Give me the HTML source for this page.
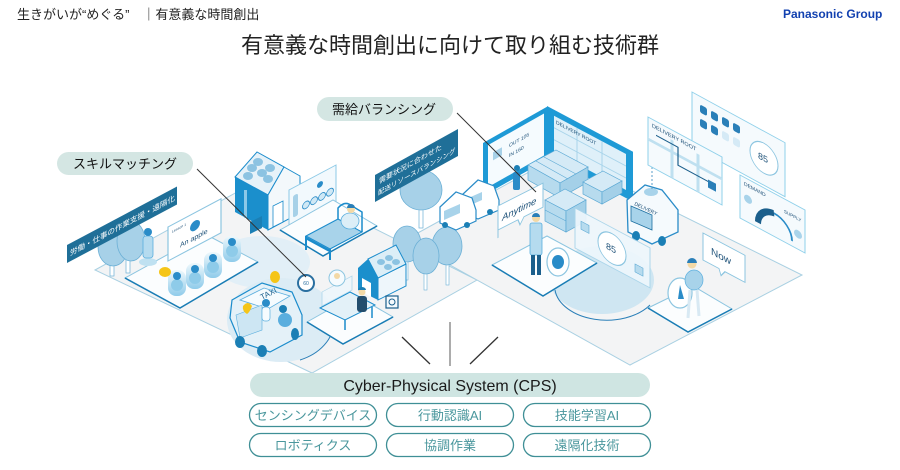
<!DOCTYPE html>
<html><head><meta charset="utf-8">
<style>
html,body{margin:0;padding:0;background:#fff;}
body{width:900px;height:470px;overflow:hidden;}
svg{display:block;}
text{font-family:"Liberation Sans","Noto Sans CJK JP",sans-serif;}
</style></head><body>
<svg width="900" height="470" viewBox="0 0 900 470" xmlns="http://www.w3.org/2000/svg">
<defs>
<linearGradient id="glow" x1="0" y1="0" x2="0" y2="1">
<stop offset="0" stop-color="#eef8fc"/><stop offset="1" stop-color="#8fcbea"/>
</linearGradient>
</defs>

<!-- header -->
<text x="17" y="19" font-size="13" fill="#222">生きがいが“めぐる”　｜有意義な時間創出</text>
<text x="783" y="18" font-size="12" font-weight="bold" fill="#1241b0">Panasonic Group</text>
<text x="450" y="53" font-size="22" text-anchor="middle" fill="#222">有意義な時間創出に向けて取り組む技術群</text>

<!-- platforms -->
<polygon points="95,270 268,175 477,280 312,373" fill="#f3f4f5" stroke="#a9d0e2" stroke-width="1"/>
<polygon points="405,240 560,155 802,275 630,365" fill="#f3f4f5" stroke="#a9d0e2" stroke-width="1"/>

<!-- light path regions -->
<ellipse cx="262" cy="262" rx="48" ry="26" fill="#e2eff7"/>
<ellipse cx="281" cy="320" rx="54" ry="42" fill="#dcecf5"/>
<path d="M300,360 A54,42 0 0 0 334,322" fill="none" stroke="#2a7fb8" stroke-width="1"/>
<ellipse cx="602" cy="280" rx="52" ry="34" fill="#cfe6f2"/>
<path d="M555,290 A52,34 0 0 0 650,305" fill="none" stroke="#2a7fb8" stroke-width="1"/>

<!-- classroom -->
<polygon points="125,278 205,234 258,262 180,308" fill="#fbfdfe" stroke="#8cc5e0"/>
<polyline points="125,278 180,308 258,262" fill="none" stroke="#1a7db5" stroke-width="1.5"/>
<!-- left tree -->
<rect x="110" y="258" width="4" height="18" fill="#fff" stroke="#6cb0d6" stroke-width="0.7"/>
<rect x="126" y="256" width="4" height="17" fill="#fff" stroke="#6cb0d6" stroke-width="0.7"/>
<ellipse cx="113" cy="247" rx="15" ry="19" fill="#a7d1e8" stroke="#6cb0d6" stroke-width="0.8"/>
<ellipse cx="131" cy="241" rx="14" ry="20" fill="#a7d1e8" stroke="#6cb0d6" stroke-width="0.8"/>
<!-- whiteboard -->
<g transform="translate(168,227) skewY(-28)">
<rect x="0" y="0" width="53" height="34" fill="#fff" stroke="#8cc5e0" stroke-width="1.2"/>
<text x="4" y="8" font-size="3.5" fill="#1b4f77">Lesson 1</text>
<circle cx="27" cy="13" r="5" fill="#2a8cc8"/>
<text x="12" y="27" font-size="7" fill="#1b4f77">An apple</text>
</g>
<!-- teacher -->
<ellipse cx="148" cy="262" rx="9" ry="4" fill="#bfe1f1"/>
<rect x="143" y="236" width="10" height="22" rx="3" fill="#b5dbef" stroke="#5aaede" stroke-width="0.8"/>
<circle cx="148" cy="232" r="4" fill="#2a8cc8"/>
<!-- students -->
<g>
<rect x="168" y="270" width="18" height="26" rx="8" fill="url(#glow)"/><ellipse cx="177" cy="285" rx="6" ry="6" fill="#8ecbe9"/><circle cx="177" cy="276" r="4" fill="#2a8cc8"/>
<rect x="186" y="263" width="18" height="26" rx="8" fill="url(#glow)"/><ellipse cx="195" cy="278" rx="6" ry="6" fill="#8ecbe9"/><circle cx="195" cy="269" r="4" fill="#2a8cc8"/>
<rect x="204" y="252" width="18" height="26" rx="8" fill="url(#glow)"/><ellipse cx="213" cy="267" rx="6" ry="6" fill="#8ecbe9"/><circle cx="213" cy="258" r="4" fill="#2a8cc8"/>
<rect x="223" y="236" width="18" height="26" rx="8" fill="url(#glow)"/><ellipse cx="232" cy="251" rx="6" ry="6" fill="#8ecbe9"/><circle cx="232" cy="242" r="4" fill="#2a8cc8"/>
</g>
<ellipse cx="165" cy="272" rx="6" ry="5" fill="#f5c518"/>
<ellipse cx="275" cy="277" rx="5" ry="6" fill="#f5c518"/>

<!-- house A -->
<polygon points="235,177 268,195 268,230 235,212" fill="#1b8fcc"/>
<rect x="244" y="190" width="3" height="28" fill="#8cc9e8" transform="skewY(0)"/>
<polygon points="235,177 257,152 284,167 268,195" fill="#e6f2f9" stroke="#1b8ccc" stroke-width="1"/>
<ellipse cx="252" cy="168" rx="5" ry="4" fill="#8cc3e2"/><ellipse cx="262" cy="173" rx="5" ry="4" fill="#8cc3e2"/>
<ellipse cx="258" cy="162" rx="5" ry="4" fill="#8cc3e2"/><ellipse cx="268" cy="179" rx="5" ry="4" fill="#8cc3e2"/>
<ellipse cx="248" cy="176" rx="5" ry="4" fill="#8cc3e2"/><ellipse cx="270" cy="168" rx="5" ry="4" fill="#8cc3e2"/>
<polygon points="268,195 284,167 300,176 300,213 268,230" fill="#f3f8fb" stroke="#1b8ccc" stroke-width="1"/>
<polygon points="273,206 283,201 283,222 273,227" fill="#fff" stroke="#1b8ccc" stroke-width="0.8"/>
<polygon points="250,222 262,216 262,228 250,234" fill="#1b7fb5"/>
<!-- panel next to house -->
<g transform="translate(289,190) skewY(-28)">
<rect x="0" y="0" width="47" height="37" fill="#f2f9fd" stroke="#8cc9e6" stroke-width="1"/>
<rect x="4" y="8" width="5" height="22" rx="2" fill="#a7d1e8"/>
<circle cx="17" cy="24" r="3.5" fill="#cfe8f5" stroke="#2a8cc8" stroke-width="0.8"/>
<circle cx="25" cy="24" r="3.5" fill="#cfe8f5" stroke="#2a8cc8" stroke-width="0.8"/>
<circle cx="33" cy="24" r="3.5" fill="#cfe8f5" stroke="#2a8cc8" stroke-width="0.8"/>
<circle cx="41" cy="24" r="3.5" fill="#cfe8f5" stroke="#2a8cc8" stroke-width="0.8"/>
<circle cx="31" cy="11" r="3" fill="#2a8cc8"/>
</g>
<!-- bed platform -->
<polygon points="280,230 333,200 377,226 323,256" fill="#fbfdfe" stroke="#8cc5e0"/>
<polyline points="280,230 323,256 377,226" fill="none" stroke="#1a7db5" stroke-width="1.5"/>
<polygon points="306,236 338,219 362,232 330,249" fill="#a8d3ea" stroke="#1b8ccc" stroke-width="1"/>
<polyline points="306,236 306,248 M330,249" fill="none" stroke="#1b8ccc" stroke-width="2"/>
<line x1="306" y1="236" x2="306" y2="250" stroke="#1b8ccc" stroke-width="2"/>
<line x1="330" y1="249" x2="330" y2="260" stroke="#1b8ccc" stroke-width="2"/>
<line x1="306" y1="238" x2="330" y2="251" stroke="#1b8ccc" stroke-width="2.5"/>
<path d="M338,219 L338,208 Q345,200 352,206 L362,212 L362,232" fill="none" stroke="#1b8ccc" stroke-width="1.5"/>
<ellipse cx="350" cy="221" rx="9" ry="8" fill="#dceef7" stroke="#5aaede" stroke-width="0.8"/>
<circle cx="351" cy="209" r="4" fill="#f3d9a6"/><path d="M347,208 a4,4 0 0 1 8,0 z" fill="#2a7fb8"/>

<!-- trees middle -->
<rect x="419" y="200" width="4" height="28" fill="#fff" stroke="#6cb0d6" stroke-width="0.7"/>
<ellipse cx="421" cy="190" rx="21" ry="20" fill="#a7d1e8" stroke="#6cb0d6" stroke-width="0.8"/>
<rect x="405" y="255" width="3" height="25" fill="#fff" stroke="#6cb0d6" stroke-width="0.6"/>
<rect x="424" y="265" width="3" height="25" fill="#fff" stroke="#6cb0d6" stroke-width="0.6"/>
<rect x="446" y="258" width="3" height="27" fill="#fff" stroke="#6cb0d6" stroke-width="0.6"/>
<ellipse cx="407" cy="244" rx="14" ry="18" fill="#a7d1e8" stroke="#6cb0d6" stroke-width="0.8"/>
<ellipse cx="447" cy="246" rx="15" ry="19" fill="#a7d1e8" stroke="#6cb0d6" stroke-width="0.8"/>
<ellipse cx="426" cy="256" rx="13" ry="18" fill="#a7d1e8" stroke="#6cb0d6" stroke-width="0.8"/>

<!-- house B -->
<polygon points="378,300 378,278 406,264 406,286" fill="#eef6fb" stroke="#1b8ccc" stroke-width="1"/>
<polygon points="368,259 378,278 406,264 396,245" fill="#dceef7" stroke="#1b8ccc" stroke-width="1"/>
<ellipse cx="381" cy="262" rx="4" ry="3" fill="#8cc3e2"/><ellipse cx="389" cy="258" rx="4" ry="3" fill="#8cc3e2"/><ellipse cx="396" cy="262" rx="4" ry="3" fill="#8cc3e2"/><ellipse cx="388" cy="267" rx="4" ry="3" fill="#8cc3e2"/>
<polygon points="358,290 358,268 368,259 378,278 378,300" fill="#1b8fcc"/>
<polygon points="362,278 371,283 371,297 362,292" fill="#fff"/>
<rect x="386" y="296" width="12" height="12" fill="#f5fafd" stroke="#1b5f8c" stroke-width="1.2"/>
<circle cx="392" cy="302" r="3" fill="none" stroke="#1b5f8c"/>

<!-- desk platform -->
<polygon points="307,322 355,295 393,317 343,344" fill="#fbfdfe" stroke="#8cc5e0"/>
<polyline points="307,322 343,344 393,317" fill="none" stroke="#1a7db5" stroke-width="1.5"/>
<polygon points="320,308 350,292 375,305 345,320" fill="#e3f1f8" stroke="#1b8ccc" stroke-width="1"/>
<line x1="345" y1="320" x2="345" y2="330" stroke="#1b8ccc" stroke-width="1.5"/>
<line x1="372" y1="307" x2="372" y2="318" stroke="#1b8ccc" stroke-width="1.5"/>
<g transform="translate(322,292) skewY(-28)"><rect x="0" y="0" width="30" height="14" fill="#eef7fc" stroke="#a8d4ea" stroke-width="0.8" opacity="0.9"/></g>
<circle cx="337" cy="278" r="8" fill="#f5fbfe" stroke="#8cc5e0" stroke-width="1"/>
<circle cx="337" cy="276" r="3" fill="#f3d9a6"/>
<rect x="357" y="296" width="10" height="16" rx="3" fill="#234e6e"/>
<circle cx="362" cy="292" r="3.5" fill="#f3d9a6"/><path d="M358,290 a4,3 0 0 1 8,0 z" fill="#1b7fb5"/>
<circle cx="306" cy="283" r="8" fill="#fff" stroke="#2a6fa0" stroke-width="2"/>
<text x="306" y="285" font-size="5" text-anchor="middle" fill="#2a6fa0">60</text>

<!-- taxi -->
<polygon points="230,318 232,300 262,283 292,292 302,315 302,335 270,352 240,342" fill="#e4f1f8" stroke="#1b8ccc" stroke-width="1.2"/>
<polygon points="240,300 264,288 290,296 268,309" fill="#f5fbfe" stroke="#5aaede" stroke-width="0.8"/>
<text x="262" y="300" font-size="8" fill="#1b5f8c" transform="rotate(-27 262 300)">TAXI</text>
<polygon points="236,315 262,305 262,330 240,338" fill="#cde6f3" stroke="#5aaede" stroke-width="0.6"/>
<path d="M243,306 q5,-6 9,0 q-2,6 -5,8 q-5,-3 -4,-8z" fill="#f5c518"/>
<circle cx="266" cy="303" r="4" fill="#2a8cc8"/><rect x="262" y="307" width="8" height="14" rx="3" fill="#f5fbfe" stroke="#5aaede" stroke-width="0.7"/>
<circle cx="285" cy="320" r="7" fill="#5aaede"/><circle cx="283" cy="309" r="4" fill="#1b7fb5"/>
<ellipse cx="240" cy="342" rx="5" ry="6" fill="#1b7fb5"/>
<ellipse cx="262" cy="351" rx="5" ry="6" fill="#1b7fb5"/>
<ellipse cx="295" cy="334" rx="4" ry="6" fill="#1b7fb5"/>

<!-- right side: building -->
<g transform="translate(483,196) skewY(-29.5)">
<rect x="0" y="-53" width="64" height="53" fill="#1e9ad6"/>
<rect x="5" y="-48" width="56" height="42" fill="#f5fbfe"/>
<text x="26" y="-34" font-size="5" fill="#1b4f77">OUT 105</text>
<text x="26" y="-24" font-size="5" fill="#1b4f77">IN 160</text>
<rect x="10" y="-38" width="9" height="8" fill="#a7d1e8"/>
</g>
<g transform="translate(547,106) skewY(28)">
<rect x="0" y="0" width="86" height="50" fill="#1e9ad6"/>
<rect x="7" y="6" width="72" height="36" fill="#dff0f9"/>
<line x1="7" y1="18" x2="79" y2="18" stroke="#a8d4ea"/><line x1="7" y1="30" x2="79" y2="30" stroke="#a8d4ea"/>
<line x1="30" y1="6" x2="30" y2="42" stroke="#a8d4ea"/><line x1="55" y1="6" x2="55" y2="42" stroke="#a8d4ea"/>
<text x="9" y="13" font-size="5" fill="#1b4f77">DELIVERY ROOT</text>
</g>
<rect x="513" y="172" width="7" height="18" rx="2" fill="#2a8cc8"/><circle cx="517" cy="168" r="3" fill="#1b7fb5"/>
<!-- shelves -->
<polygon points="528,165 556,150 588,167 560,183" fill="#d5eaf6" stroke="#5aa8d4" stroke-width="0.7"/>
<polygon points="528,165 560,183 560,198 528,180" fill="#b7dbee" stroke="#5aa8d4" stroke-width="0.7"/>
<polygon points="560,183 588,167 588,182 560,198" fill="#a4d0e8" stroke="#5aa8d4" stroke-width="0.7"/>
<line x1="536" y1="161" x2="568" y2="179" stroke="#5aa8d4" stroke-width="0.6"/><line x1="544" y1="157" x2="576" y2="174" stroke="#5aa8d4" stroke-width="0.6"/>
<polygon points="583,182 603,171 622,181 602,192" fill="#d5eaf6" stroke="#5aa8d4" stroke-width="0.7"/>
<polygon points="583,182 602,192 602,204 583,194" fill="#b7dbee" stroke="#5aa8d4" stroke-width="0.7"/>
<polygon points="602,192 622,181 622,193 602,204" fill="#a4d0e8" stroke="#5aa8d4" stroke-width="0.7"/>
<polygon points="545,200 565,189 586,200 566,211" fill="#d5eaf6" stroke="#5aa8d4" stroke-width="0.7"/>
<polygon points="545,200 566,211 566,232 545,221" fill="#b7dbee" stroke="#5aa8d4" stroke-width="0.7"/>
<polygon points="566,211 586,200 586,221 566,232" fill="#a4d0e8" stroke="#5aa8d4" stroke-width="0.7"/>
<line x1="545" y1="210" x2="566" y2="221" stroke="#5aa8d4" stroke-width="0.6"/>
<!-- vans left -->
<polygon points="462,195 478,180 494,186 499,200 499,210 478,219 462,212" fill="#fff" stroke="#2a8cc8" stroke-width="1.2"/>
<polygon points="466,199 482,192 482,200 466,207" fill="#a8d3ea"/>
<circle cx="467" cy="213" r="3" fill="#1b7fb5"/><circle cx="490" cy="212" r="3" fill="#1b7fb5"/>
<polygon points="440,207 456,192 472,198 476,210 476,221 456,230 440,223" fill="#fff" stroke="#2a8cc8" stroke-width="1.2"/>
<polygon points="444,211 460,204 460,213 444,220" fill="#a8d3ea"/>
<circle cx="445" cy="225" r="3" fill="#1b7fb5"/><circle cx="467" cy="225" r="3" fill="#1b7fb5"/>
<!-- van right -->
<polygon points="627,200 645,185 662,190 678,210 678,232 652,244 628,232" fill="#f5fafd" stroke="#2a8cc8" stroke-width="1.3"/>
<ellipse cx="651" cy="192" rx="7" ry="4" fill="#a8d3ea"/>
<polygon points="631,206 652,215 652,230 631,221" fill="#a8d3ea" stroke="#1b6fa0" stroke-width="0.8"/>
<text x="634" y="205" font-size="5" fill="#1b4f77" transform="rotate(25 634 205)">DELIVERY</text>
<ellipse cx="636" cy="236" rx="4" ry="5" fill="#1b7fb5"/><ellipse cx="662" cy="241" rx="4" ry="5" fill="#1b7fb5"/>
<line x1="652" y1="167" x2="652" y2="189" stroke="#5a9ec8" stroke-width="1" stroke-dasharray="2,2"/>

<!-- man left platform -->
<polygon points="492,265 547,236 597,263 543,296" fill="#fbfdfe" stroke="#8cc5e0"/>
<polyline points="492,265 543,296 597,263" fill="none" stroke="#1a7db5" stroke-width="1.5"/>
<rect x="530" y="223" width="12" height="32" rx="2" fill="#b5dbef" stroke="#5aaede" stroke-width="0.8"/>
<rect x="531" y="255" width="4" height="20" fill="#1b5f8c"/><rect x="537" y="255" width="4" height="20" fill="#1b5f8c"/>
<circle cx="536" cy="218" r="4" fill="#f3d9a6"/><path d="M532,217 a4,4 0 0 1 8,0 z" fill="#2a7fb8"/>
<ellipse cx="558" cy="262" rx="11" ry="14" fill="#fff" stroke="#8cc5e0" stroke-width="1.2"/>
<ellipse cx="558" cy="262" rx="6" ry="7" fill="#2a8cc8"/>
<!-- transparent 85 panel -->
<g transform="translate(575,208) skewY(28)">
<rect x="0" y="0" width="75" height="40" fill="#eef7fc" stroke="#a8d4ea" stroke-width="1" opacity="0.92"/>
<ellipse cx="37" cy="21" rx="14" ry="15" fill="#fff" stroke="#8cc5e0"/>
<text x="31" y="24" font-size="9" fill="#1b4f77">85</text>
<rect x="6" y="10" width="8" height="8" fill="#b7dbee" stroke="#5aa8d4" stroke-width="0.6"/>
<rect x="60" y="24" width="8" height="8" fill="#b7dbee" stroke="#5aa8d4" stroke-width="0.6"/>
</g>
<!-- anytime bubble -->
<g transform="translate(498,238) skewY(-27)">
<path d="M0,0 V-32 H45 V-8 H26 L22,-2 L20,-8 H0 Z" fill="#fff" stroke="#8cc5e0" stroke-width="1"/>
<text x="4" y="-15" font-size="9.5" font-style="italic" fill="#1b4f77">Anytime</text>
</g>
<!-- man right platform -->
<polygon points="648,308 693,286 732,309 688,332" fill="#fbfdfe" stroke="#8cc5e0"/>
<polyline points="648,308 688,332 732,309" fill="none" stroke="#1a7db5" stroke-width="1.5"/>
<ellipse cx="680" cy="293" rx="12" ry="15" fill="#fff" stroke="#8cc5e0" stroke-width="1.2"/>
<path d="M680,285 l4,14 l-6,0 z" fill="#2a8cc8"/>
<ellipse cx="694" cy="280" rx="9" ry="10" fill="#a8d3ea" stroke="#5aaede" stroke-width="0.7"/>
<line x1="690" y1="290" x2="688" y2="318" stroke="#d8e9f3" stroke-width="3"/>
<line x1="697" y1="290" x2="699" y2="316" stroke="#d8e9f3" stroke-width="3"/>
<circle cx="692" cy="264" r="4.5" fill="#f3d9a6"/><path d="M687,263 a5,5 0 0 1 10,0 z" fill="#2a7fb8"/>
<!-- now bubble -->
<g transform="translate(703,233) skewY(28)">
<path d="M0,0 H42 V27 H22 L18,33 L16,27 H0 Z" fill="#fff" stroke="#8cc5e0" stroke-width="1"/>
<text x="8" y="17" font-size="10" fill="#1b4f77">Now</text>
</g>

<!-- floating panels -->
<g transform="translate(692,92) skewY(28.6)">
<rect x="0" y="0" width="93" height="54" fill="#f5fafd" stroke="#8fd0ea" stroke-width="1"/>
<rect x="8" y="8" width="7" height="8" rx="2" fill="#2a7fb8"/><rect x="19" y="8" width="7" height="8" rx="2" fill="#2a7fb8"/>
<rect x="30" y="8" width="7" height="8" rx="2" fill="#2a7fb8"/><rect x="41" y="8" width="7" height="8" rx="2" fill="#2a7fb8"/>
<rect x="8" y="22" width="7" height="8" rx="2" fill="#2a7fb8"/><rect x="19" y="22" width="7" height="8" rx="2" fill="#2a7fb8"/>
<rect x="30" y="22" width="7" height="8" rx="2" fill="#d5eaf6"/><rect x="41" y="22" width="7" height="8" rx="2" fill="#d5eaf6"/>
<ellipse cx="72" cy="27" rx="14" ry="15" fill="#fff" stroke="#8cc5e0"/>
<text x="66" y="30" font-size="9" fill="#1b4f77">85</text>
</g>
<g transform="translate(648,117) skewY(28.4)">
<rect x="0" y="0" width="74" height="48" fill="#f5fafd" stroke="#8fd0ea" stroke-width="1"/>
<line x1="0" y1="22" x2="74" y2="22" stroke="#bfe0f0" stroke-width="3"/>
<line x1="24" y1="10" x2="24" y2="48" stroke="#bfe0f0" stroke-width="3"/>
<line x1="50" y1="10" x2="50" y2="48" stroke="#bfe0f0" stroke-width="3"/>
<polyline points="8,14 30,14 30,32 60,32" fill="none" stroke="#1b5f8c" stroke-width="1.2"/>
<text x="4" y="8" font-size="5.5" fill="#1b4f77">DELIVERY ROOT</text>
<rect x="60" y="30" width="8" height="8" fill="#2a7fb8"/>
</g>
<g transform="translate(740,175) skewY(28.3)">
<rect x="0" y="0" width="65" height="43" fill="#f5fafd" stroke="#8fd0ea" stroke-width="1"/>
<text x="4" y="8" font-size="5" fill="#1b4f77">DEMAND</text>
<text x="44" y="14" font-size="4.5" fill="#1b4f77">SUPPLY</text>
<path d="M18,38 A18,18 0 0 1 34,20" fill="none" stroke="#1b5f8c" stroke-width="6"/>
<path d="M34,20 A18,18 0 0 1 52,38" fill="none" stroke="#2a8cc8" stroke-width="2"/>
<circle cx="8" cy="20" r="4" fill="#a8d3ea"/><circle cx="58" cy="28" r="4" fill="#a8d3ea"/>
</g>

<!-- banners -->
<g transform="translate(67,263) skewY(-28)">
<rect x="0" y="-18" width="110" height="18" fill="#1f6f98"/>
<text x="3" y="-5.5" font-size="7.5" fill="#fff">労働・仕事の作業支援・遠隔化</text>
</g>
<g transform="translate(375,202) skewY(-29)">
<rect x="0" y="-27" width="83" height="27" fill="#1f6f98"/>
<text x="4" y="-16" font-size="7" fill="#fff">需要状況に合わせた</text>
<text x="3" y="-5" font-size="6.5" fill="#fff">配送リソースバランシング</text>
</g>

<!-- callouts -->
<rect x="57" y="152" width="136" height="23" rx="11.5" fill="#d4e6e3"/>
<text x="125" y="168.5" font-size="13" text-anchor="middle" fill="#111">スキルマッチング</text>
<line x1="197" y1="169" x2="306" y2="277" stroke="#333" stroke-width="1"/>
<rect x="317" y="97" width="136" height="24" rx="12" fill="#d4e6e3"/>
<text x="384" y="114" font-size="13" text-anchor="middle" fill="#111">需給バランシング</text>
<line x1="457" y1="113" x2="536" y2="192" stroke="#333" stroke-width="1"/>

<!-- CPS connector lines -->
<line x1="402" y1="337" x2="430" y2="364" stroke="#333" stroke-width="1.3"/>
<line x1="450" y1="322" x2="450" y2="366" stroke="#808080" stroke-width="1.3"/>
<line x1="498" y1="337" x2="470" y2="364" stroke="#333" stroke-width="1.3"/>

<!-- CPS bar -->
<rect x="250" y="373" width="400" height="24" rx="12" fill="#cfe5e2"/>
<text x="450" y="391" font-size="16" text-anchor="middle" fill="#1a1a1a">Cyber-Physical System (CPS)</text>

<g fill="#fff" stroke="#3f8f96" stroke-width="1.3">
<rect x="249.5" y="403.5" width="127" height="23" rx="11.5"/>
<rect x="386.5" y="403.5" width="127" height="23" rx="11.5"/>
<rect x="523.5" y="403.5" width="127" height="23" rx="11.5"/>
<rect x="249.5" y="433.5" width="127" height="23" rx="11.5"/>
<rect x="386.5" y="433.5" width="127" height="23" rx="11.5"/>
<rect x="523.5" y="433.5" width="127" height="23" rx="11.5"/>
</g>
<g font-size="13" fill="#4a979d" text-anchor="middle">
<text x="313" y="420">センシングデバイス</text>
<text x="450" y="420">行動認識AI</text>
<text x="587" y="420">技能学習AI</text>
<text x="313" y="450">ロボティクス</text>
<text x="450" y="450">協調作業</text>
<text x="587" y="450">遠隔化技術</text>
</g>
</svg>
</body></html>
